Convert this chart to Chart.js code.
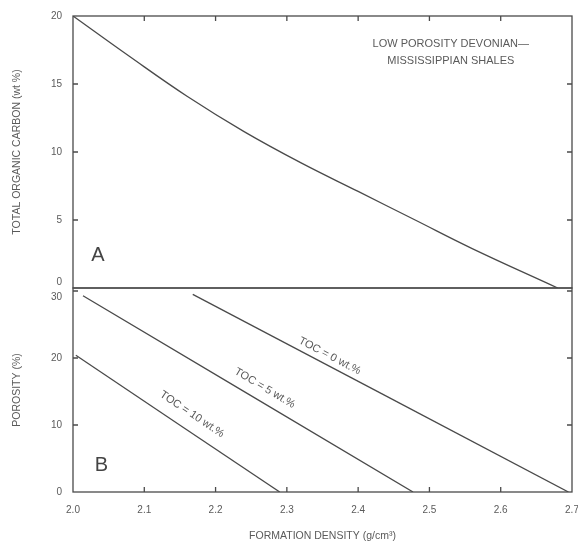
<!DOCTYPE html>
<html>
<head>
<meta charset="utf-8">
<script src="https://cdn.jsdelivr.net/npm/chart.js@4.4.1/dist/chart.umd.min.js"></script>
<style>
  html, body { margin: 0; padding: 0; background: #fff; }
  #wrap { position: relative; width: 578px; height: 549px; }
</style>
</head>
<body>
<div id="wrap"><canvas id="shaleChart" width="578" height="549"></canvas></div>
<script>
// Panel A: TOC vs formation density
var densityA = [2.00, 2.08, 2.16, 2.24, 2.32, 2.40, 2.48, 2.56, 2.68];
var tocA = [20, 17.0, 14.1, 11.5, 9.2, 7.1, 5.0, 2.9, 0];

// Panel B: porosity vs formation density, one line per TOC value
var densityToc0 = [2.168, 2.695];
var porosityToc0 = [29.5, 0];
var densityToc5 = [2.014, 2.477];
var porosityToc5 = [29.3, 0];
var densityToc10 = [2.004, 2.290];
var porosityToc10 = [20.4, 0];

var lineLabels = ['TOC = 0 wt.%', 'TOC = 5 wt.%', 'TOC = 10 wt.%'];

var INK = '#4a4a4a';
var TEXT = '#5a5a5a';
var FONT = "'Liberation Sans', Arial, sans-serif";

function toPoints(xs, ys) {
    return xs.map(function(x, i) { return { x: x, y: ys[i] }; });
}

function lineSet(xs, ys, axis) {
    return {
        data: toPoints(xs, ys),
        yAxisID: axis,
        borderColor: INK,
        borderWidth: 1.3,
        pointRadius: 0,
        fill: false,
        tension: 0.4
    };
}

// frames and inward tick marks for both panels
var framePlugin = {
    id: 'frames',
    afterDraw: function(chart) {
        var ctx = chart.ctx;
        var area = chart.chartArea;
        var xs = chart.scales.x;
        ctx.save();
        ctx.strokeStyle = INK;
        ctx.lineWidth = 1.3;
        ['yTop', 'yBot'].forEach(function(id) {
            var s = chart.scales[id];
            ctx.strokeRect(area.left, s.top, area.right - area.left, s.bottom - s.top);
            s.ticks.forEach(function(t) {
                var py = s.getPixelForValue(t.value);
                if (Math.abs(py - s.top) < 2 || Math.abs(py - s.bottom) < 2) return;
                ctx.beginPath();
                ctx.moveTo(area.left, py); ctx.lineTo(area.left + 5, py);
                ctx.moveTo(area.right, py); ctx.lineTo(area.right - 5, py);
                ctx.stroke();
            });
        });
        var top = chart.scales.yTop.top;
        var bottom = chart.scales.yBot.bottom;
        xs.ticks.forEach(function(t) {
            var px = xs.getPixelForValue(t.value);
            if (px - area.left < 2 || area.right - px < 2) return;
            ctx.beginPath();
            ctx.moveTo(px, top); ctx.lineTo(px, top + 5);
            ctx.moveTo(px, bottom); ctx.lineTo(px, bottom - 5);
            ctx.stroke();
        });
        ctx.restore();
    }
};

// panel letters, caption and rotated line labels
var notePlugin = {
    id: 'notes',
    afterDraw: function(chart) {
        var ctx = chart.ctx;
        var xs = chart.scales.x;
        var yTop = chart.scales.yTop;
        var yBot = chart.scales.yBot;
        ctx.save();
        ctx.fillStyle = '#444';
        ctx.textAlign = 'center';
        ctx.textBaseline = 'middle';
        ctx.font = '20px ' + FONT;
        ctx.fillText('A', xs.getPixelForValue(2.035), yTop.getPixelForValue(2.4));
        ctx.fillText('B', xs.getPixelForValue(2.04), yBot.getPixelForValue(4));

        ctx.fillStyle = TEXT;
        ctx.font = '11px ' + FONT;
        var cx = xs.getPixelForValue(2.53);
        ctx.fillText('LOW POROSITY DEVONIAN\u2014', cx, yTop.getPixelForValue(17.95));
        ctx.fillText('MISSISSIPPIAN SHALES', cx, yTop.getPixelForValue(16.7));

        var lines = [
            [densityToc0, porosityToc0, 2.36, 20.3],
            [densityToc5, porosityToc5, 2.269, 15.5],
            [densityToc10, porosityToc10, 2.167, 11.6]
        ];
        ctx.font = '11px ' + FONT;
        lines.forEach(function(l, i) {
            var x0 = xs.getPixelForValue(l[0][0]), y0 = yBot.getPixelForValue(l[1][0]);
            var x1 = xs.getPixelForValue(l[0][1]), y1 = yBot.getPixelForValue(l[1][1]);
            var ang = Math.atan2(y1 - y0, x1 - x0);
            ctx.save();
            ctx.translate(xs.getPixelForValue(l[2]), yBot.getPixelForValue(l[3]));
            ctx.rotate(ang);
            ctx.fillText(lineLabels[i], 0, 0);
            ctx.restore();
        });
        ctx.restore();
    }
};

function fixWidth(s) { s.width = 73; s.paddingTop = 0; s.paddingBottom = 0; }

var ctx = document.getElementById('shaleChart').getContext('2d');
var shaleChart = new Chart(ctx, {
    type: 'line',
    data: {
        datasets: [
            lineSet(densityA, tocA, 'yTop'),
            lineSet(densityToc0, porosityToc0, 'yBot'),
            lineSet(densityToc5, porosityToc5, 'yBot'),
            lineSet(densityToc10, porosityToc10, 'yBot')
        ]
    },
    options: {
        responsive: false,
        animation: false,
        layout: { padding: { top: 16, right: 6, left: 0, bottom: 0 } },
        plugins: {
            legend: { display: false },
            tooltip: { enabled: false }
        },
        scales: {
            x: {
                type: 'linear',
                min: 2.0,
                max: 2.7,
                grid: { display: false, drawTicks: false },
                border: { display: false },
                ticks: {
                    stepSize: 0.1,
                    padding: 12,
                    color: TEXT,
                    font: { family: FONT, size: 10 },
                    maxRotation: 0,
                    callback: function(v) { return v.toFixed(1); }
                },
                title: {
                    display: true,
                    text: 'FORMATION DENSITY (g/cm\u00B3)',
                    color: TEXT,
                    font: { family: FONT, size: 10.5 },
                    padding: { top: 6, bottom: 7 }
                },
                afterFit: function(s) { s.height = 57; s.paddingLeft = 0; s.paddingRight = 0; }
            },
            // first scale in a stack is placed lowest
            yBot: {
                type: 'linear',
                position: 'left',
                stack: 'panels',
                stackWeight: 3,
                min: 0,
                max: 30.45,
                grid: { display: false, drawTicks: false },
                border: { display: false },
                ticks: {
                    stepSize: 10,
                    includeBounds: false,
                    padding: 11,
                    color: TEXT,
                    font: { family: FONT, size: 10 },
                    // push the 30 label down, clear of the panel A zero
                    callback: function(v) { return v === 30 ? ['', '30'] : String(v); }
                },
                title: {
                    display: true,
                    text: 'POROSITY (%)',
                    color: TEXT,
                    font: { family: FONT, size: 10.5 },
                    padding: { top: 11, bottom: 0 }
                },
                afterFit: fixWidth
            },
            yTop: {
                type: 'linear',
                position: 'left',
                stack: 'panels',
                stackWeight: 4,
                min: 0,
                max: 20,
                grid: { display: false, drawTicks: false },
                border: { display: false },
                ticks: {
                    stepSize: 5,
                    padding: 11,
                    color: TEXT,
                    font: { family: FONT, size: 10 },
                    callback: function(v) { return v === 0 ? ['0', ''] : String(v); }
                },
                title: {
                    display: true,
                    text: 'TOTAL ORGANIC CARBON (wt %)',
                    color: TEXT,
                    font: { family: FONT, size: 10.5 },
                    padding: { top: 11, bottom: 0 }
                },
                afterFit: fixWidth
            }
        }
    },
    plugins: [framePlugin, notePlugin]
});
</script>
</body>
</html>
